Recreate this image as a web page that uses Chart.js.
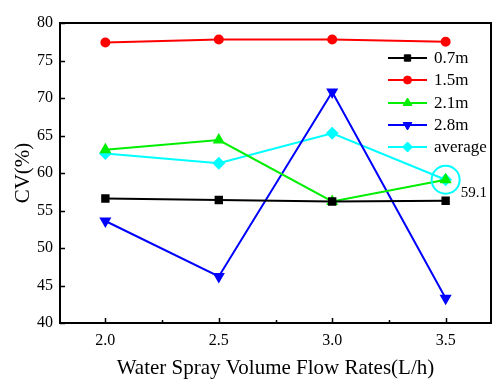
<!DOCTYPE html>
<html>
<head>
<meta charset="utf-8">
<script src="https://cdn.jsdelivr.net/npm/chart.js@4.4.1/dist/chart.umd.min.js"></script>
<style>
  html, body { margin: 0; padding: 0; background: #fff; }
  #wrap { width: 492px; height: 379px; }
</style>
</head>
<body>
<div id="wrap"><canvas id="c" width="492" height="379"></canvas></div>
<script>
const flowRates = [2.0, 2.5, 3.0, 3.5];
const seriesLabels = ['0.7m', '1.5m', '2.1m', '2.8m', 'average'];
const cv07 = [56.6, 56.4, 56.2, 56.3];
const cv15 = [77.4, 77.8, 77.8, 77.5];
const cv21 = [63.1, 64.4, 56.2, 59.1];
const cv28 = [53.6, 46.2, 70.8, 43.3];
const cvAvg = [62.6, 61.3, 65.3, 59.1];
const xTicks = [2.0, 2.5, 3.0, 3.5];
const xMinorTicks = [2.25, 2.75, 3.25];
const yTicks = [40, 45, 50, 55, 60, 65, 70, 75, 80];
const highlight = { x: 3.5, y: 59.1, label: '59.1' };

const colors = ['#000000', '#ff0000', '#00ee00', '#0000ff', '#00ffff'];
const styles = ['rect', 'circle', 'triangle', 'triangle', 'rectRot'];
const rotations = [0, 0, 0, 180, 0];
const radii = [4.5, 4, 5, 5, 5];
const values = [cv07, cv15, cv21, cv28, cvAvg];

const datasets = values.map((arr, i) => ({
  label: seriesLabels[i],
  data: arr.map((v, j) => ({ x: flowRates[j], y: v })),
  borderColor: colors[i],
  backgroundColor: colors[i],
  pointBackgroundColor: colors[i],
  pointBorderColor: colors[i],
  pointStyle: styles[i],
  rotation: rotations[i],
  pointRadius: radii[i],
  borderWidth: 2,
  tension: 0
}));

const serif = "'Liberation Serif', 'Times New Roman', serif";

const decor = {
  id: 'decor',
  afterDraw(chart) {
    const ctx = chart.ctx;
    const a = chart.chartArea;
    const xs = chart.scales.x, ys = chart.scales.y;
    ctx.save();
    // frame
    ctx.strokeStyle = '#000';
    ctx.lineWidth = 2;
    ctx.strokeRect(a.left, a.top, a.right - a.left, a.bottom - a.top);
    // ticks inward
    ctx.lineWidth = 1.5;
    ctx.beginPath();
    xTicks.forEach(t => {
      const px = Math.round(xs.getPixelForValue(t)) + 0.5;
      ctx.moveTo(px, a.bottom); ctx.lineTo(px, a.bottom - 5);
    });
    xMinorTicks.forEach(t => {
      const px = Math.round(xs.getPixelForValue(t)) + 0.5;
      ctx.moveTo(px, a.bottom); ctx.lineTo(px, a.bottom - 3);
    });
    yTicks.forEach(t => {
      const py = Math.round(ys.getPixelForValue(t)) + 0.5;
      ctx.moveTo(a.left, py); ctx.lineTo(a.left + 5, py);
    });
    ctx.stroke();

    // highlight circle
    const hx = xs.getPixelForValue(highlight.x);
    const hy = ys.getPixelForValue(highlight.y);
    ctx.strokeStyle = '#00ffff';
    ctx.lineWidth = 2;
    ctx.beginPath();
    ctx.arc(hx, hy, 14, 0, Math.PI * 2);
    ctx.stroke();
    ctx.fillStyle = '#000';
    ctx.font = '15px ' + serif;
    ctx.textAlign = 'left';
    ctx.textBaseline = 'middle';
    ctx.fillText(highlight.label, hx + 15, hy + 13);

    // legend
    const lx0 = 388, lx1 = 427, tx = 434;
    const rowY = [58, 80, 103, 125, 147];
    ctx.font = '17px ' + serif;
    chart.data.datasets.forEach((ds, i) => {
      const y = rowY[i];
      ctx.strokeStyle = ds.borderColor;
      ctx.fillStyle = ds.borderColor;
      ctx.lineWidth = 2;
      ctx.beginPath();
      ctx.moveTo(lx0, y); ctx.lineTo(lx1, y);
      ctx.stroke();
      ctx.lineWidth = 1;
      Chart.helpers.drawPoint(ctx, {
        pointStyle: ds.pointStyle,
        rotation: ds.rotation,
        radius: ds.pointRadius,
        borderWidth: 1
      }, (lx0 + lx1) / 2, y);
      ctx.fillStyle = '#000';
      ctx.textAlign = 'left';
      ctx.textBaseline = 'middle';
      ctx.fillText(ds.label, tx, y + 1);
    });
    ctx.restore();
  }
};

new Chart(document.getElementById('c'), {
  type: 'line',
  data: { datasets },
  options: {
    responsive: false,
    animation: false,
    devicePixelRatio: 1,
    layout: { autoPadding: false, padding: { top: 23, right: 1, left: 0, bottom: 0 } },
    plugins: { legend: { display: false }, tooltip: { enabled: false } },
    scales: {
      x: {
        type: 'linear',
        min: 1.8,
        max: 3.7,
        grid: { display: false, drawTicks: false },
        border: { display: false },
        afterBuildTicks: s => { s.ticks = xTicks.map(v => ({ value: v })); },
        afterFit: s => { s.height = 56; s.paddingLeft = 0; s.paddingRight = 0; },
        ticks: {
          color: '#000',
          padding: 8,
          font: { family: serif, size: 16 },
          callback: v => Number(v).toFixed(1),
          maxRotation: 0
        },
        title: {
          display: true,
          text: 'Water Spray Volume Flow Rates(L/h)',
          color: '#000',
          font: { family: serif, size: 21, lineHeight: 1 },
          padding: { top: 0, bottom: 0 }
        }
      },
      y: {
        min: 40,
        max: 80,
        grid: { display: false, drawTicks: false },
        border: { display: false },
        afterBuildTicks: s => { s.ticks = yTicks.map(v => ({ value: v })); },
        afterFit: s => { s.width = 60; s.paddingTop = 0; s.paddingBottom = 0; },
        ticks: {
          color: '#000',
          padding: 7,
          font: { family: serif, size: 16 }
        },
        title: {
          display: true,
          text: 'CV(%)',
          color: '#000',
          font: { family: serif, size: 21, lineHeight: 1 },
          padding: { top: 13, bottom: 0 }
        }
      }
    }
  },
  plugins: [decor]
});
</script>
</body>
</html>
